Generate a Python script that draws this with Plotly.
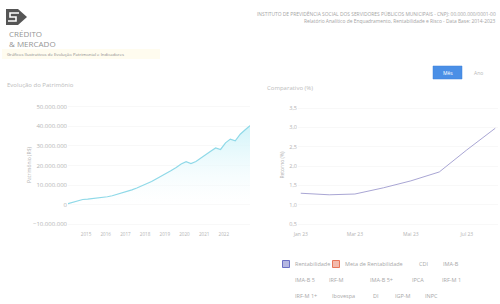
import plotly.graph_objects as go

W, H = 500, 304
def px(x): return x / W
def py(y): return 1 - y / H

# ---------------- data ----------------
patrimonio_datas = [
    "2014-02-01", "2014-05-01", "2014-08-01", "2014-11-01",
    "2015-02-01", "2015-05-01", "2015-08-01", "2015-11-01",
    "2016-02-01", "2016-05-01", "2016-08-01", "2016-11-01",
    "2017-02-01", "2017-05-01", "2017-08-01", "2017-11-01",
    "2018-02-01", "2018-05-01", "2018-08-01", "2018-11-01",
    "2019-02-01", "2019-05-01", "2019-08-01", "2019-11-01",
    "2020-02-01", "2020-05-01", "2020-08-01", "2020-11-01",
    "2021-02-01", "2021-05-01", "2021-08-01", "2021-11-01",
    "2022-02-01", "2022-05-01", "2022-08-01", "2022-11-01",
    "2023-02-01", "2023-05-01",
]
patrimonio_valores = [
    0.5e6, 1.2e6, 1.9e6, 2.6e6,
    2.8e6, 3.0e6, 3.3e6, 3.7e6,
    4.0e6, 4.5e6, 5.2e6, 5.8e6,
    6.6e6, 7.5e6, 8.5e6, 9.6e6,
    10.6e6, 11.8e6, 13.2e6, 14.6e6,
    15.8e6, 17.4e6, 19.0e6, 20.8e6,
    21.9e6, 21.0e6, 22.0e6, 23.9e6,
    25.5e6, 27.3e6, 29.0e6, 28.2e6,
    31.6e6, 33.5e6, 32.6e6, 36.0e6,
    38.3e6, 40.4e6,
]
anos_ticks = ["2015", "2016", "2017", "2018", "2019", "2020", "2021", "2022"]
patrimonio_yticks = [-10e6, 0, 10e6, 20e6, 30e6, 40e6, 50e6]

comp_meses = ["2023-01-01", "2023-02-01", "2023-03-01", "2023-04-01",
              "2023-05-01", "2023-06-01", "2023-07-01", "2023-08-01"]
carteira_valores = [1.30, 1.26, 1.28, 1.44, 1.62, 1.85, 2.42, 2.98]
comp_xticks = ["2023-01-01", "2023-03-01", "2023-05-01", "2023-07-01"]
comp_xticktext = ["Jan 23", "Mar 23", "Mai 23", "Jul 23"]
comp_yticks = [0.5, 1.0, 1.5, 2.0, 2.5, 3.0, 3.5]

legenda_linhas = [
    ["Rentabilidade", "Meta de Rentabilidade", "CDI", "IMA-B"],
    ["IMA-B 5", "IRF-M", "IMA-B 5+", "IPCA", "IRF-M 1"],
    ["IRF-M 1+", "Ibovespa", "DI", "IGP-M", "INPC"],
]
legenda_cores = {"Rentabilidade": ("rgba(108,112,196,0.5)", "#6c70c4"),
                 "Meta de Rentabilidade": ("rgba(232,120,92,0.5)", "#e8785c")}

FONT = "Open Sans"
GRAY = "#b4b4b4"

fig = go.Figure()

fig.add_trace(go.Scatter(
    x=patrimonio_datas, y=patrimonio_valores, mode="lines", name="Patrimônio",
    line=dict(color="#8fd9e8", width=1.2),
    fill="tozeroy",
    fillgradient=dict(type="vertical", start=0, stop=4.2e7,
                      colorscale=[[0, "rgba(255,255,255,0.3)"], [1, "#cff3f9"]]),
    xaxis="x", yaxis="y", showlegend=False, hoverinfo="skip",
))

fig.add_trace(go.Scatter(
    x=comp_meses, y=carteira_valores, mode="lines", name="Rentabilidade",
    line=dict(color="#a9a6d4", width=1),
    xaxis="x2", yaxis="y2", showlegend=False,
))

axis_common = dict(showline=False, zeroline=False, ticks="", automargin=False)

fig.update_layout(
    width=W, height=H,
    margin=dict(l=0, r=0, t=0, b=0, autoexpand=False),
    paper_bgcolor="white", plot_bgcolor="white",
    separators=",.",
    font=dict(family=FONT, color=GRAY, size=5),
    showlegend=False,
    xaxis=dict(domain=[px(68), px(250)], type="date",
               range=["2014-02-01", "2023-05-01"],
               tickvals=[f"{a}-01-01" for a in anos_ticks], ticktext=anos_ticks,
               tickfont=dict(size=4.6, color=GRAY, family=FONT),
               showgrid=False, anchor="y", **axis_common),
    yaxis=dict(domain=[py(230), py(100)], range=[-13e6, 53.5e6],
               tickvals=patrimonio_yticks, tickformat=",d",
               tickfont=dict(size=6, color=GRAY, family=FONT),
               showgrid=True, gridcolor="#f8f8f8", anchor="x",
               title=dict(text="Patrimônio (R$)", font=dict(size=5, color=GRAY), standoff=1),
               **axis_common),
    xaxis2=dict(domain=[px(298), px(498)], type="date",
                range=["2022-12-29", "2023-08-04"],
                tickvals=comp_xticks, ticktext=comp_xticktext,
                tickfont=dict(size=5, color=GRAY, family=FONT),
                showgrid=False, anchor="y2", **axis_common),
    yaxis2=dict(domain=[py(230), py(100)], range=[0.35, 3.71],
                tickvals=comp_yticks, tickformat=".1f",
                tickfont=dict(size=5.5, color=GRAY, family=FONT),
                showgrid=True, gridcolor="#f8f8f8", anchor="x2",
                title=dict(text="Retorno (%)", font=dict(size=5, color=GRAY), standoff=4),
                **axis_common),
)

def path(points):
    return "M " + " L ".join(f"{px(x):.5f},{py(y):.5f}" for x, y in points)

shapes = [
    dict(type="path", path=path([(6, 9), (18, 9), (27, 17), (18, 25), (6, 25)]) + " Z",
         fillcolor="#555555", line=dict(width=0)),
    dict(type="path", path=path([(19, 13), (10, 13), (10, 17), (16, 17), (16, 21), (8, 21)]),
         line=dict(color="white", width=1.6)),
    dict(type="rect", x0=px(2), x1=px(160), y0=py(59), y1=py(49),
         fillcolor="rgba(255,248,220,0.45)", line=dict(width=0), layer="below"),
    dict(type="rect", x0=px(433), x1=px(462), y0=py(79), y1=py(66),
         fillcolor="#4a8fe6", line=dict(color="#3f82d8", width=0.5)),
]

annotations = [
    dict(text="CRÉDITO<br>&amp; MERCADO", x=px(8), y=py(39), xanchor="left", yanchor="middle",
         align="left", borderpad=0,
         font=dict(size=8, color="#959595", family=FONT)),
    dict(text="Gráficos Ilustrativos de Evolução Patrimonial e Indicadores",
         x=px(5), y=py(54), xanchor="left", yanchor="middle",
         font=dict(size=4.3, color="#8a8a8a", family=FONT)),
    dict(text="INSTITUTO DE PREVIDÊNCIA SOCIAL DOS SERVIDORES PÚBLICOS MUNICIPAIS - CNPJ: 00.000.000/0001-00",
         x=px(498), y=py(14), xanchor="right", yanchor="middle",
         font=dict(size=4.9, color="#a4a4a4", family=FONT)),
    dict(text="Relatório Analítico de Enquadramento, Rentabilidade e Risco - Data Base: 2014-2023",
         x=px(498), y=py(20.5), xanchor="right", yanchor="middle",
         font=dict(size=4.9, color="#a4a4a4", family=FONT)),
    dict(text="Evolução do Patrimônio", x=px(5), y=py(85), xanchor="left", yanchor="middle",
         font=dict(size=6, color="#bcbcbc", family=FONT)),
    dict(text="Comparativo (%)", x=px(265), y=py(88), xanchor="left", yanchor="middle",
         font=dict(size=6, color="#bcbcbc", family=FONT)),
    dict(text="Mês", x=px(447.5), y=py(72.5), xanchor="center", yanchor="middle",
         font=dict(size=5, color="white", family=FONT)),
    dict(text="Ano", x=px(478), y=py(72.5), xanchor="center", yanchor="middle",
         font=dict(size=5, color="#b8b8b8", family=FONT)),
]

leg_x = [[293, 343, 417, 441], [293, 327, 368, 410, 440], [293, 330, 371, 393, 423]]
leg_y = [264, 280, 296]
for r, linha in enumerate(legenda_linhas):
    for c, nome in enumerate(linha):
        x0 = leg_x[r][c]
        annotations.append(dict(text=nome, x=px(x0), y=py(leg_y[r]), xanchor="left", yanchor="middle",
                                font=dict(size=5.5, color="#a8a8a8", family=FONT)))
        if nome in legenda_cores:
            fill, border = legenda_cores[nome]
            shapes.append(dict(type="rect", x0=px(x0 - 10.5), x1=px(x0 - 3.5),
                               y0=py(leg_y[r] + 3.5), y1=py(leg_y[r] - 3.5),
                               fillcolor=fill, line=dict(color=border, width=1)))

for s in shapes:
    s.update(xref="paper", yref="paper")
for a in annotations:
    a.update(xref="paper", yref="paper", showarrow=False)

fig.update_layout(shapes=shapes, annotations=annotations)

fig.write_html("out.html", config={"displayModeBar": False},
               post_script="document.body.style.margin='0px';")
